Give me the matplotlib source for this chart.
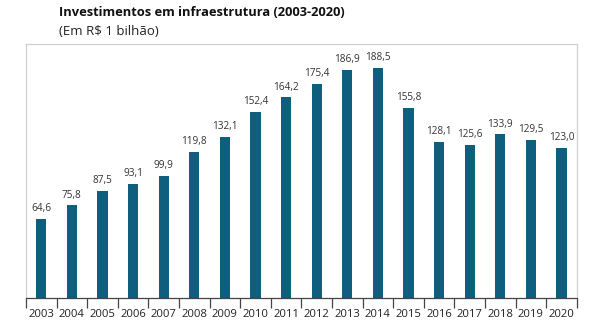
import matplotlib.pyplot as plt
import numpy as np

# dados: investimentos em infraestrutura (R$ bilhões)
anos = ['2003', '2004', '2005', '2006', '2007', '2008', '2009', '2010', '2011',
        '2012', '2013', '2014', '2015', '2016', '2017', '2018', '2019', '2020']
valores = [64.6, 75.8, 87.5, 93.1, 99.9, 119.8, 132.1, 152.4, 164.2,
           175.4, 186.9, 188.5, 155.8, 128.1, 125.6, 133.9, 129.5, 123.0]

plt.rcParams['font.family'] = ['Open Sans', 'DejaVu Sans']

fig = plt.figure(figsize=(6.04, 3.25), dpi=100)
ax = fig.add_axes([0.043, 0.083, 0.912, 0.782])

x = np.arange(len(anos))
ax.bar(x, valores, width=0.33, color='#0f5e7d')

# rótulos de valor em cima das barras
for xi, v in zip(x, valores):
    ax.text(xi, v + 4, f'{v:.1f}'.replace('.', ','), ha='center', va='bottom',
            fontsize=7.2, color='#333333')

ax.set_xlim(-0.5, len(anos) - 0.5)
ax.set_ylim(0, 208)
ax.set_yticks([])
ax.set_xticks(x)
ax.set_xticklabels(anos, fontsize=8.1, color='#222222')
ax.set_xticks(np.arange(len(anos) + 1) - 0.5, minor=True)
ax.tick_params(axis='x', which='major', length=0, pad=8)
ax.tick_params(axis='x', which='minor', length=7, width=0.9, color='#444444')

for s in ['left', 'right', 'top']:
    ax.spines[s].set_color('#d0d0d0')
    ax.spines[s].set_linewidth(0.9)
ax.spines['bottom'].set_color('#444444')
ax.spines['bottom'].set_linewidth(0.9)

fig.text(0.098, 0.962, 'Investimentos em infraestrutura (2003-2020)',
         fontsize=9.3, fontweight='bold', color='#111111', va='center')
fig.text(0.098, 0.903, '(Em R$ 1 bilhão)', fontsize=9.5, color='#222222',
         va='center')

fig.savefig('out.png', dpi=100)
